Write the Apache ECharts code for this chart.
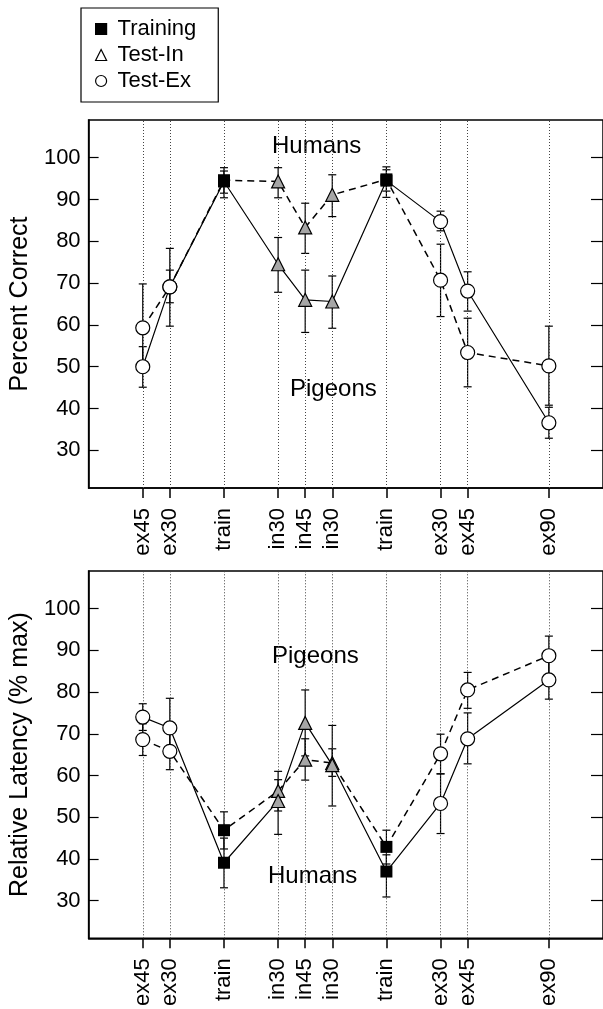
<!DOCTYPE html>
<html>
<head>
<meta charset="utf-8">
<script src="https://cdn.jsdelivr.net/npm/echarts@6/dist/echarts.min.js"></script>
<style>
  html, body { margin: 0; padding: 0; background: #fff; }
  #main { width: 603px; height: 1009px; }
</style>
</head>
<body>
<div id="main"></div>
<script>
// x positions (deg) and their tick labels
var xPos = [-45, -30, 0, 30, 45, 60, 90, 120, 135, 180];
var xLabels = ['ex45', 'ex30', 'train', 'in30', 'in45', 'in30', 'train', 'ex30', 'ex45', 'ex90'];
var condition = ['Test-Ex', 'Test-Ex', 'Training', 'Test-In', 'Test-In', 'Test-In', 'Training', 'Test-Ex', 'Test-Ex', 'Test-Ex'];
var yTicks = [30, 40, 50, 60, 70, 80, 90, 100];

// top panel: percent correct (dashed = humans, solid = pigeons)
var accDashed   = [59.3, 69.1, 94.6, 94.3, 83.3, 91.1, 94.8, 70.7, 53.4, 50.2];
var accDashedLo = [49.0, 59.7, 90.4, 90.4, 77.1, 85.9, 90.5, 62.0, 45.2, 40.8];
var accDashedHi = [69.8, 78.3, 97.6, 97.6, 89.1, 95.9, 97.8, 79.3, 61.6, 59.7];
var accSolid    = [50.0, 69.1, 94.3, 74.5, 66.0, 65.6, 94.5, 84.7, 68.1, 36.6];
var accSolidLo  = [45.1, 65.3, 91.5, 67.8, 58.2, 59.2, 92.0, 82.5, 63.3, 32.9];
var accSolidHi  = [54.8, 73.1, 96.8, 80.9, 73.1, 71.7, 97.1, 87.2, 72.7, 40.3];

// bottom panel: relative latency (dashed = pigeons, solid = humans)
var latDashed   = [68.6, 65.8, 46.9, 56.3, 63.8, 63.0, 42.9, 65.2, 80.5, 88.7];
var latDashedLo = [64.8, 61.4, 42.4, 51.5, 58.9, 52.7, 38.8, 60.4, 76.1, 84.0];
var latDashedHi = [72.4, 70.2, 51.3, 61.0, 68.8, 72.0, 46.9, 69.9, 84.7, 93.4];
var latSolid    = [74.0, 71.4, 39.1, 53.9, 72.6, 62.5, 37.0, 53.3, 68.8, 82.9];
var latSolidLo  = [70.8, 64.5, 33.1, 45.9, 64.7, 59.8, 30.9, 46.1, 62.8, 78.3];
var latSolidHi  = [77.2, 78.5, 45.0, 59.0, 80.5, 66.4, 41.0, 60.4, 75.0, 87.5];

var FONT = 'Liberation Sans, Arial, sans-serif';

function pts(vals) {
    return xPos.map(function (x, i) { return [x, vals[i]]; });
}
function pick(vals, cond) {
    var out = [];
    xPos.forEach(function (x, i) {
        if (condition[i] === cond) out.push([x, vals[i]]);
    });
    return out;
}

function errRender(params, api) {
    var x = api.value(0);
    var p1 = api.coord([x, api.value(2)]);
    var p2 = api.coord([x, api.value(1)]);
    var w = 4;
    var st = { stroke: '#000', lineWidth: 1.2 };
    return {
        type: 'group',
        children: [
            { type: 'line', shape: { x1: p1[0], y1: p1[1], x2: p2[0], y2: p2[1] }, style: st },
            { type: 'line', shape: { x1: p1[0] - w, y1: p1[1], x2: p1[0] + w, y2: p1[1] }, style: st },
            { type: 'line', shape: { x1: p2[0] - w, y1: p2[1], x2: p2[0] + w, y2: p2[1] }, style: st }
        ]
    };
}

function panelSeries(idx, dashed, dLo, dHi, solid, sLo, sHi) {
    var ax = { xAxisIndex: idx, yAxisIndex: idx * 2 };
    var list = [];
    list.push(Object.assign({
        type: 'line', name: 'dashed' + idx, data: pts(dashed), symbol: 'none', z: 3,
        lineStyle: { color: '#000', width: 1.5, type: [7, 5] },
        markLine: {
            silent: true, symbol: ['none', 'none'], label: { show: false },
            lineStyle: { color: '#444', width: 1, type: [1, 2] },
            data: xPos.map(function (x) { return { xAxis: x }; })
        }
    }, ax));
    list.push(Object.assign({
        type: 'line', name: 'solid' + idx, data: pts(solid), symbol: 'none', z: 3,
        lineStyle: { color: '#000', width: 1.2 }
    }, ax));
    list.push(Object.assign({
        type: 'custom', name: 'errD' + idx, renderItem: errRender, z: 4,
        encode: { x: 0, y: [1, 2] },
        data: xPos.map(function (x, i) { return [x, dLo[i], dHi[i]]; })
    }, ax));
    list.push(Object.assign({
        type: 'custom', name: 'errS' + idx, renderItem: errRender, z: 4,
        encode: { x: 0, y: [1, 2] },
        data: xPos.map(function (x, i) { return [x, sLo[i], sHi[i]]; })
    }, ax));
    list.push(Object.assign({
        type: 'scatter', name: 'Test-Ex', symbol: 'circle', symbolSize: 14, z: 5,
        itemStyle: { color: '#fff', borderColor: '#000', borderWidth: 1.2, opacity: 1 },
        data: pick(dashed, 'Test-Ex').concat(pick(solid, 'Test-Ex'))
    }, ax));
    list.push(Object.assign({
        type: 'scatter', name: 'Test-In', symbol: 'triangle', symbolSize: 13, z: 5,
        itemStyle: { color: '#a6a6a6', borderColor: '#000', borderWidth: 1.2, opacity: 1 },
        data: pick(dashed, 'Test-In').concat(pick(solid, 'Test-In'))
    }, ax));
    list.push(Object.assign({
        type: 'scatter', name: 'Training', symbol: 'rect', symbolSize: 12, z: 5,
        itemStyle: { color: '#000', opacity: 1 },
        data: pick(dashed, 'Training').concat(pick(solid, 'Training'))
    }, ax));
    return list;
}

function xAxisCfg(idx) {
    return {
        type: 'value', gridIndex: idx, min: -75, max: 210,
        axisLine: { show: true, onZero: false, lineStyle: { color: '#000', width: 1.5 } },
        axisTick: { show: true, inside: false, length: 10, customValues: xPos, lineStyle: { color: '#000', width: 1.5 } },
        axisLabel: {
            show: true, rotate: 90, margin: 20, customValues: xPos,
            fontFamily: FONT, fontSize: 22, color: '#000',
            formatter: function (v) { return xLabels[xPos.indexOf(v)] || ''; }
        },
        splitLine: { show: false }
    };
}

function yAxesCfg(idx, name) {
    return [{
        type: 'value', gridIndex: idx, min: 21, max: 109, position: 'left',
        name: name, nameLocation: 'middle', nameGap: 46,
        nameTextStyle: { fontFamily: FONT, fontSize: 25, color: '#000' },
        axisLine: { show: true, onZero: false, lineStyle: { color: '#000', width: 1.5 } },
        axisTick: { show: true, inside: true, length: 10, customValues: yTicks, lineStyle: { color: '#000', width: 1.2 } },
        axisLabel: { show: true, margin: 8, customValues: yTicks, fontFamily: FONT, fontSize: 22, color: '#000' },
        splitLine: { show: false }
    }, {
        type: 'value', gridIndex: idx, min: 21, max: 109, position: 'right',
        axisLine: { show: false, onZero: false },
        axisTick: { show: true, inside: true, length: 12, customValues: yTicks, lineStyle: { color: '#000', width: 1.2 } },
        axisLabel: { show: false },
        splitLine: { show: false }
    }];
}

var myChart = echarts.init(document.getElementById('main'));

var legendItem = function (name, icon, fill) {
    return { name: name, icon: icon, itemStyle: { color: fill, borderColor: '#000', borderWidth: 1.2 } };
};

var option = {
    animation: false,
    backgroundColor: '#fff',
    legend: {
        orient: 'vertical', left: 81, top: 8,
        padding: [10, 22, 10, 14],
        borderColor: '#000', borderWidth: 1.2,
        itemWidth: 11, itemHeight: 11, itemGap: 4,
        textStyle: { fontFamily: FONT, fontSize: 22, color: '#000', padding: [0, 0, 0, 6] },
        data: [
            legendItem('Training', 'rect', '#000'),
            legendItem('Test-In', 'triangle', '#fff'),
            legendItem('Test-Ex', 'circle', '#fff')
        ]
    },
    grid: [
        { left: 80, right: -4, top: 120, bottom: 521, show: true, borderColor: '#000', borderWidth: 1.5 },
        { left: 80, right: -4, top: 571, bottom: 70, show: true, borderColor: '#000', borderWidth: 1.5 }
    ],
    xAxis: [xAxisCfg(0), xAxisCfg(1)],
    yAxis: yAxesCfg(0, 'Percent Correct').concat(yAxesCfg(1, 'Relative Latency (% max)')),
    graphic: [
        { type: 'text', left: 272, top: 134, style: { text: 'Humans', font: '24px ' + FONT, fill: '#000' } },
        { type: 'text', left: 290, top: 377, style: { text: 'Pigeons', font: '24px ' + FONT, fill: '#000' } },
        { type: 'text', left: 272, top: 644, style: { text: 'Pigeons', font: '24px ' + FONT, fill: '#000' } },
        { type: 'text', left: 268, top: 864, style: { text: 'Humans', font: '24px ' + FONT, fill: '#000' } }
    ],
    series: panelSeries(0, accDashed, accDashedLo, accDashedHi, accSolid, accSolidLo, accSolidHi)
        .concat(panelSeries(1, latDashed, latDashedLo, latDashedHi, latSolid, latSolidLo, latSolidHi))
};

myChart.setOption(option);
window.onresize = function () {
    myChart.resize();
};
</script>
</body>
</html>
